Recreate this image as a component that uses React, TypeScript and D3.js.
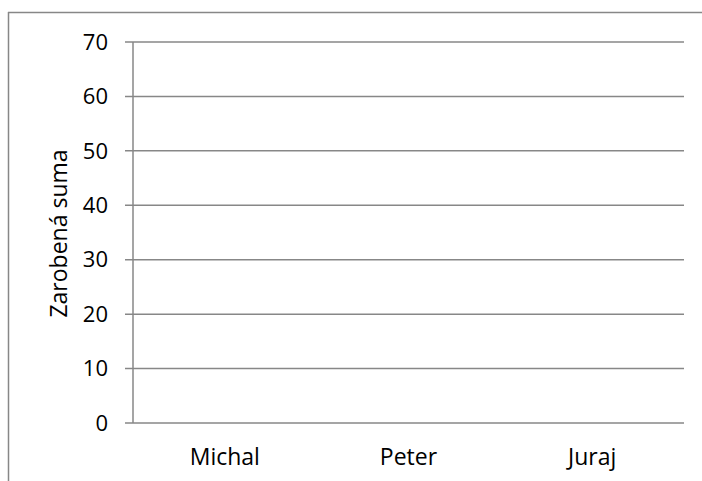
import React from "react";
import * as d3 from "d3";

// Earnings per person (no amounts entered yet)
const categories: string[] = ["Michal", "Peter", "Juraj"];
const earnings: number[] = [0, 0, 0];
const yTicks: number[] = [0, 10, 20, 30, 40, 50, 60, 70];
const yAxisTitle = "Zarobená suma";

const W = 702;
const H = 481;
const LEFT = 133;
const RIGHT = 684;
const TOP = 42;
const BOTTOM = 423;
const GRAY = "#878787";
const FONT = "'Open Sans', sans-serif";

export default function App() {
  const x = d3.scaleBand<string>().domain(categories).range([LEFT, RIGHT]).paddingInner(0.35).paddingOuter(0.175);
  const y = d3.scaleLinear().domain([0, 70]).range([BOTTOM, TOP]);

  return (
    <svg
      width={W}
      height={H}
      style={{ position: "fixed", left: 0, top: 0, background: "#fff" }}
      fontFamily={FONT}
    >
      {/* chart area frame */}
      <line x1={8} y1={12.5} x2={W} y2={12.5} stroke={GRAY} strokeWidth={1.5} />
      <line x1={8.5} y1={12} x2={8.5} y2={H} stroke={GRAY} strokeWidth={1.5} />

      {/* gridlines and y tick labels */}
      {yTicks.map((t) => (
        <g key={t}>
          <line x1={125} x2={RIGHT} y1={y(t)} y2={y(t)} stroke={GRAY} strokeWidth={1.5} />
          <text x={108} y={y(t)} dy="0.35em" textAnchor="end" fontSize={22} fill="#000">
            {t}
          </text>
        </g>
      ))}

      {/* bars */}
      {categories.map((c, i) => (
        <rect
          key={c}
          x={x(c)}
          y={y(earnings[i])}
          width={x.bandwidth()}
          height={BOTTOM - y(earnings[i])}
          fill="#4f81bd"
        />
      ))}

      {/* value axis */}
      <line x1={LEFT} x2={LEFT} y1={TOP} y2={BOTTOM} stroke={GRAY} strokeWidth={1.5} />

      {/* category labels */}
      {categories.map((c) => (
        <text
          key={c}
          x={(x(c) as number) + x.bandwidth() / 2}
          y={465}
          textAnchor="middle"
          fontSize={23}
          fill="#000"
        >
          {c}
        </text>
      ))}

      {/* y axis title */}
      <text
        transform={`translate(67, ${(TOP + BOTTOM) / 2 + 1}) rotate(-90)`}
        textAnchor="middle"
        fontSize={23}
        fill="#000"
      >
        {yAxisTitle}
      </text>
    </svg>
  );
}
